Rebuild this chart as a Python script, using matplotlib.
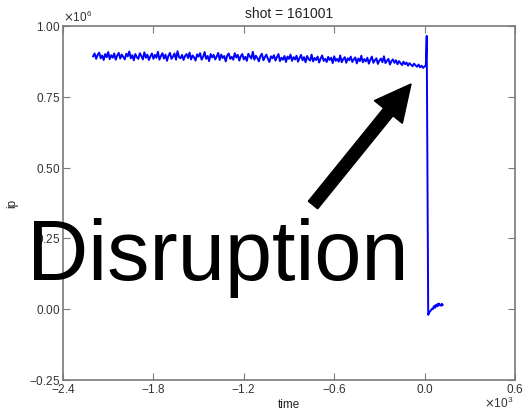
import numpy as np
import matplotlib
matplotlib.use("Agg")
import matplotlib.pyplot as plt
from matplotlib.patches import FancyArrow
from matplotlib.ticker import ScalarFormatter, FixedLocator

plt.rcParams['font.family'] = ['Liberation Sans', 'DejaVu Sans']

# time in ms, ip in kA (plotted in A)
t_main = np.arange(-2200, 1, 10)
ip_main_kA = [
    893, 903, 884, 898, 906, 886, 896, 880, 901, 890, 908, 883, 897, 888, 903, 881, 896, 905, 885, 899,
    891, 882, 902, 893, 910, 886, 897, 879, 901, 890, 884, 904, 894, 882, 907, 888, 899, 880, 893, 903,
    884, 898, 888, 909, 881, 894, 904, 885, 899, 877, 895, 905, 884, 892, 903, 881, 911, 890, 886, 898,
    880, 894, 901, 887, 906, 882, 896, 889, 878, 900, 892, 904, 881, 891, 908, 884, 894, 876, 901, 889,
    898, 882, 892, 905, 880, 899, 887, 894, 875, 896, 903, 884, 891, 881, 904, 889, 898, 878, 893, 901,
    882, 891, 877, 902, 893, 885, 909, 881, 895, 887, 875, 894, 902, 879, 890, 899, 884, 873, 893, 886,
    897, 878, 890, 901, 876, 888, 881, 894, 873, 892, 884, 899, 877, 890, 882, 895, 874, 887, 898, 879,
    890, 872, 894, 883, 878, 899, 875, 887, 880, 892, 871, 885, 896, 877, 884, 873, 891, 880, 888, 869,
    893, 877, 884, 874, 896, 872, 883, 890, 870, 886, 879, 892, 873, 882, 889, 868, 885, 876, 895, 872,
    883, 875, 888, 867, 881, 892, 870, 879, 886, 866, 878, 885, 872, 893, 869, 877, 884, 864, 876, 882,
    870, 879, 865, 876, 869, 862, 874, 865, 871, 860, 869, 863, 858, 867, 861, 856, 864, 854, 860, 852,
    858,
]
t_end = [8, 14, 24, 30, 40, 50, 55, 60, 65, 70, 75, 80, 85, 90, 95, 100, 105, 110, 115, 120]
ip_end_kA = [858, 965, -20, -12, -5, 2, 0, 8, 12, 5, 15, 10, 18, 12, 20, 14, 16, 12, 19, 15]

x_ticks = [-2400, -1800, -1200, -600, 0, 600]
y_ticks = [-0.25e6, 0.0, 0.25e6, 0.5e6, 0.75e6, 1.0e6]

n = min(len(t_main), len(ip_main_kA))
t = np.concatenate([t_main[:n], t_end])
ip = np.concatenate([np.array(ip_main_kA[:n]) * 1e3, np.array(ip_end_kA) * 1e3])

fig = plt.figure(figsize=(5.28, 4.11), dpi=100)
ax = fig.add_axes([63/528, 1 - 380/411, (515-63)/528, (380-26)/411])
ax.plot(t, ip, color='#0000ff', lw=1.4)
ax.set_xlim(-2400, 600)
ax.set_ylim(-0.25e6, 1.0e6)
ax.xaxis.set_major_locator(FixedLocator(x_ticks))
ax.yaxis.set_major_locator(FixedLocator(y_ticks))

xf = ScalarFormatter(useMathText=True)
xf.set_powerlimits((0, 0))
ax.xaxis.set_major_formatter(xf)
yf = ScalarFormatter(useMathText=True)
yf.set_powerlimits((0, 0))
ax.yaxis.set_major_formatter(yf)

gray = '#7a7a7a'
for s in ax.spines.values():
    s.set_color(gray)
    s.set_linewidth(1.2)
ax.tick_params(direction='in', length=5, width=0.8, color=gray, top=True, right=True,
               labelsize=8.5, labelcolor='#333333', pad=2)
ax.xaxis.get_offset_text().set_visible(False)
ax.yaxis.get_offset_text().set_fontsize(8.5)
ax.yaxis.get_offset_text().set_color('#333333')
fig.text(513/528, 1 - 403/411, r'$\times\mathdefault{10^{3}}$', fontsize=8.5,
         color='#333333', ha='right', va='center')

ax.set_title('shot = 161001', fontsize=10, color='#222222', pad=6)
ax.set_xlabel('time', fontsize=8.5, color='#222222', labelpad=2)
ax.set_ylabel('ip', fontsize=8.5, color='#222222', labelpad=8)

# Annotation text and arrow (figure inches)
fig.text(27/528, 1 - 280/411, 'Disruption', fontsize=61, color='black',
         ha='left', va='baseline', family=['Liberation Sans', 'DejaVu Sans'])
arrow = FancyArrow(3.13, 2.06, 0.98, 1.21, width=0.12, head_width=0.36, head_length=0.36,
                   length_includes_head=True, color='black', transform=fig.dpi_scale_trans)
fig.add_artist(arrow)

fig.savefig('out.png', dpi=100)
